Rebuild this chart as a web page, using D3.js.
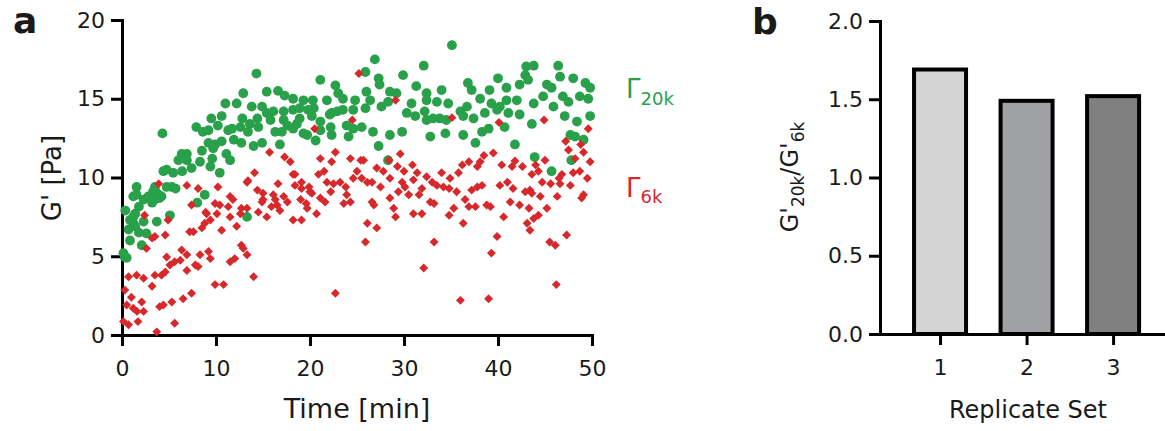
<!DOCTYPE html>
<html>
<head>
<meta charset="utf-8">
<script src="https://cdn.jsdelivr.net/npm/d3@7"></script>
<style>
  body { margin: 0; background: #fff; }
  text { font-family: "DejaVu Sans", Verdana, sans-serif; fill: #1a1a1a; }
</style>
</head>
<body>
<div id="chart"></div>
<script>
// panel a: storage modulus over time, [time (min), G' (Pa)]
const gamma20k = [
  [0.15,5.2],[0.3,4.95],[0.5,4.9],[0.35,7.9],[0.7,6.7],[0.85,6.0],[0.85,7.3],[1.2,7.1],[1.2,7.5],[1.2,8.8],
  [1.4,6.9],[1.4,7.7],[1.55,9.4],[1.55,8.9],[1.8,6.5],[1.8,8.15],[2.1,5.7],[2.3,8.6],[2.3,7.2],[2.6,6.45],
  [2.8,8.8],[3.2,8.4],[3.3,9.1],[3.5,8.6],[3.5,9.4],[3.7,7.2],[3.7,9.0],[3.9,8.9],[4.0,8.7],[4.2,8.8],
  [4.3,12.8],[4.4,10.4],[4.75,10.5],[4.75,9.4],[5.1,7.6],[5.3,9.4],[5.45,10.3],[5.7,9.3],[6.0,11.1],[6.35,11.5],
  [6.4,10.4],[6.9,11.5],[6.9,11.1],[7.4,10.6],[7.9,13.2],[8.0,8.4],[8.3,11.0],[8.5,11.7],[8.6,12.9],[8.8,8.9],
  [9.2,12.2],[9.2,13.0],[9.4,10.7],[9.5,13.75],[9.6,11.2],[9.7,11.85],[9.9,12.1],[10.2,13.3],[10.4,10.3],[10.6,13.9],
  [10.6,12.3],[11.0,14.7],[11.1,11.5],[11.3,13.0],[11.5,11.1],[11.7,13.1],[11.9,12.4],[12.2,14.7],[12.6,13.2],[12.7,12.2],
  [12.8,13.75],[12.9,15.35],[13.3,7.5],[13.4,12.9],[13.6,13.4],[13.8,14.5],[14.0,12.0],[14.3,16.6],[14.4,13.75],[14.5,13.2],
  [14.9,14.5],[14.9,12.2],[15.4,15.45],[15.4,14.1],[15.8,13.65],[16.1,14.2],[16.3,12.9],[16.6,15.5],[16.8,12.1],[17.0,12.9],
  [17.2,13.65],[17.2,14.2],[17.3,15.2],[17.6,13.3],[18.2,15.0],[18.2,14.3],[18.2,13.1],[18.6,13.4],[18.9,13.75],[18.9,14.4],
  [19.3,14.9],[19.3,12.8],[19.7,12.7],[19.8,14.3],[20.2,13.9],[20.3,14.9],[20.4,14.4],[20.6,12.35],[21.1,16.2],[21.1,13.55],
  [21.1,13.0],[21.8,14.9],[22.1,14.0],[22.2,13.2],[22.3,14.1],[22.3,12.7],[22.7,15.85],[22.9,14.2],[23.0,15.35],[23.5,15.0],
  [23.5,14.3],[23.9,13.3],[24.1,12.6],[24.6,14.3],[24.6,13.1],[24.8,14.9],[25.5,13.2],[25.9,16.7],[25.9,14.4],[26.0,15.45],
  [26.4,14.9],[26.7,12.9],[26.9,17.5],[27.3,16.3],[27.4,15.9],[27.3,12.0],[27.6,14.5],[28.3,14.8],[28.3,11.1],[28.5,15.45],
  [28.5,12.7],[29.2,15.35],[29.8,12.9],[29.9,16.5],[30.3,14.1],[30.8,14.7],[31.2,13.9],[31.3,15.8],[32.1,17.1],[32.2,14.2],
  [32.4,15.35],[32.4,14.9],[32.4,13.65],[32.8,12.6],[33.1,13.75],[33.5,14.8],[33.8,13.75],[34.0,15.55],[34.4,12.8],[34.5,13.65],
  [34.7,14.7],[35.1,18.4],[36.0,14.2],[36.3,13.9],[36.3,12.7],[36.7,14.5],[36.8,16.0],[37.2,15.55],[37.4,13.75],[37.6,12.2],
  [38.1,15.0],[38.3,12.9],[38.6,14.1],[39.0,13.1],[39.1,15.55],[39.3,14.7],[39.9,14.3],[40.0,16.3],[40.2,14.5],[40.7,13.2],
  [40.9,15.7],[40.9,14.9],[41.1,14.1],[41.8,12.1],[42.0,14.9],[42.3,15.9],[42.3,14.0],[42.9,16.5],[43.0,17.05],[43.2,16.2],
  [43.6,13.4],[43.8,17.1],[43.8,14.7],[43.9,11.3],[44.8,15.15],[45.2,15.9],[45.7,15.7],[45.7,10.4],[45.9,14.5],[46.4,17.1],
  [46.6,16.4],[46.9,15.15],[47.1,13.9],[47.5,14.8],[47.7,12.7],[47.8,11.1],[48.0,16.3],[48.2,12.6],[48.4,13.55],[48.7,15.15],
  [49.1,12.4],[49.3,16.0],[49.6,15.0],[49.8,15.7],[49.8,13.9]
]

const gamma6k = [
  [0.15,0.85],[0.7,0.65],[1.7,0.85],[3.7,0.2],[5.6,0.75],[0.3,2.85],[1.0,2.4],[0.5,1.9],[1.2,1.7],[1.6,1.5],
  [2.1,2.1],[2.3,1.5],[0.7,3.7],[1.55,3.8],[2.3,3.6],[3.2,3.1],[3.5,3.8],[4.2,3.8],[4.0,1.8],[4.4,1.9],
  [5.3,2.1],[6.5,2.3],[7.4,2.65],[4.6,4.0],[5.1,4.45],[5.6,4.65],[6.2,4.75],[4.75,4.95],[6.35,5.4],[6.9,5.1],
  [6.9,4.1],[7.8,4.45],[8.1,4.35],[8.3,5.1],[9.2,5.3],[9.4,4.85],[9.9,3.2],[10.8,3.2],[11.5,4.65],[12.0,4.85],
  [12.7,5.7],[12.9,5.5],[13.3,5.1],[14.0,3.7],[2.6,5.5],[3.2,6.15],[3.5,6.25],[4.6,6.35],[4.9,7.3],[2.4,7.6],
  [7.2,6.55],[7.6,6.55],[8.5,6.8],[8.8,7.1],[9.4,7.3],[10.1,7.7],[10.6,6.65],[10.4,8.25],[11.3,8.15],[11.5,7.5],
  [12.2,6.9],[12.6,7.7],[12.7,8.05],[13.3,8.05],[7.4,8.25],[8.1,9.3],[9.0,7.7],[10.2,9.4],[11.5,8.8],[11.8,8.6],
  [13.3,9.7],[14.5,7.8],[15.0,8.6],[15.4,7.5],[15.9,8.15],[16.3,8.6],[16.8,7.9],[17.2,8.8],[18.2,7.3],[19.1,7.3],
  [19.6,8.35],[20.2,9.0],[20.7,7.7],[3.9,9.6],[6.9,9.5],[8.9,7.8],[9.9,8.35],
  [15.7,11.6],[17.3,11.3],[17.9,11.0],[18.2,10.2],[19.1,9.7],[20.5,13.1],[13.4,9.8],[14.1,10.3],[15.0,9.0],[16.6,9.6],
  [18.4,9.5],[20.0,9.1],[25.2,16.6],[24.5,13.65],[21.1,11.2],[22.7,11.6],[22.3,11.0],[24.3,11.2],[25.4,11.1],[18.4,10.2],
  [20.9,10.2],[21.5,10.4],[21.8,9.7],[22.5,9.6],[23.2,9.7],[23.8,9.4],[24.6,9.95],[25.0,10.4],[14.4,9.2],[16.1,8.9],
  [19.1,9.3],[19.9,9.4],[22.2,9.1],[23.9,8.9],[14.9,8.45],[16.5,8.25],[17.6,8.45],[19.0,8.6],[21.1,8.7],[21.6,8.45],
  [23.6,8.35],[24.3,8.45],[19.7,8.05],[22.7,2.65],
  [29.1,14.9],[35.1,13.8],[29.6,11.5],[28.4,11.1],[30.9,10.8],[25.7,11.1],[27.1,10.6],[27.8,10.4],[29.3,10.7],[30.0,10.4],
  [36.2,10.8],[36.9,11.0],[37.8,10.7],[38.1,11.0],[38.5,11.4],[35.8,10.3],[34.0,10.3],[34.9,9.95],[26.6,9.7],[27.5,9.4],
  [28.5,9.95],[29.8,9.7],[31.0,9.85],[31.4,10.3],[32.4,10.05],[33.0,9.7],[33.5,9.5],[34.2,9.4],[34.8,9.3],[31.9,9.3],
  [30.1,9.4],[25.5,9.95],[26.1,9.7],[29.4,9.1],[30.5,8.9],[31.6,8.9],[35.6,9.1],[37.2,9.2],[37.8,9.4],[28.5,8.7],
  [32.8,8.45],[33.2,8.35],[36.5,8.6],[36.9,8.15],[37.6,8.15],[26.6,8.45],[26.8,8.25],[28.9,8.05],[29.1,7.5],[31.0,7.7],
  [31.9,7.7],[35.3,8.05],[34.8,7.6],[36.3,7.1],[26.1,7.1],[27.1,6.8],[25.9,5.9],[33.2,5.9],[32.1,4.25],[36.0,2.2],
  [39.0,2.3],[46.2,3.2],[39.3,5.2],[39.9,6.25],[45.5,5.9],[46.1,5.7],[47.3,6.35],[40.6,7.5],[43.1,7.1],[43.4,6.65],
  [43.8,7.4],[44.3,7.6],[45.2,8.05],[49.1,8.9],[48.9,8.7],[41.3,8.45],[42.3,8.25],[38.8,8.25],[38.3,9.5],[40.2,9.5],
  [41.6,9.3],[43.4,9.2],[44.5,8.8],[46.6,9.6],[47.7,9.5],
  [40.1,13.5],[44.9,13.65],[49.6,13.1],[47.2,12.3],[48.8,12.1],[47.5,11.75],[49.1,11.6],[48.2,11.2],[49.8,11.0],[39.5,11.55],
  [45.0,11.1],[41.8,11.05],[40.4,10.8],[41.5,10.7],[42.6,10.7],[44.0,10.8],[44.3,10.4],[43.6,10.2],[46.8,10.2],[48.0,10.3],
  [48.7,10.4],[49.5,9.95],[41.0,9.7],[44.7,9.7],[45.6,9.6],[46.5,9.95],[42.9,9.1],[43.6,9.0],[46.3,8.8],[43.3,8.05],
  [39.2,8.15]
]

const timeTicks = [0, 10, 20, 30, 40, 50]
const modulusTicks = [0, 5, 10, 15, 20]

// panel b: ratio per replicate set
const replicateSets = [1, 2, 3]
const ratioValues = [1.69, 1.49, 1.52]
const barColors = ["#d4d4d4", "#a0a1a5", "#808080"]
const ratioTicks = [0, 0.5, 1.0, 1.5, 2.0]

const green = "#29a04a"
const red = "#d7282b"

const svg = d3.select("#chart").append("svg").attr("width", 1165).attr("height", 431)

function styleAxis(g) {
  g.selectAll("path.domain").attr("stroke", "#000").attr("stroke-width", 3).attr("stroke-linecap", "square")
  g.selectAll(".tick line").attr("stroke", "#000").attr("stroke-width", 3)
  g.selectAll(".tick text").style("font-size", "22px").attr("fill", "#111")
    .style("font-family", "'DejaVu Sans', Verdana, sans-serif")
}

// ----- panel a -----
const xA = d3.scaleLinear().domain([0, 50]).range([122, 592])
const yA = d3.scaleLinear().domain([0, 20]).range([335, 20])

const axA = svg.append("g")
axA.append("g").attr("transform", "translate(0,335)")
  .call(d3.axisBottom(xA).tickValues(timeTicks).tickSize(11).tickSizeOuter(0).tickPadding(14))
  .call(styleAxis)
axA.append("g").attr("transform", "translate(122,0)")
  .call(d3.axisLeft(yA).tickValues(modulusTicks).tickSize(11).tickSizeOuter(0).tickPadding(6))
  .call(styleAxis)

svg.append("g").selectAll("circle").data(gamma20k).join("circle")
  .attr("cx", d => xA(d[0])).attr("cy", d => yA(d[1])).attr("r", 4.9).attr("fill", green)

const diamond = d3.symbol(d3.symbolSquare, 40)
svg.append("g").selectAll("path").data(gamma6k).join("path")
  .attr("d", diamond)
  .attr("transform", d => `translate(${xA(d[0])},${yA(d[1])}) rotate(45)`)
  .attr("fill", red)

svg.append("text").attr("x", 13).attr("y", 33).style("font-size", "36px").style("font-weight", "bold").text("a")

svg.append("text").attr("transform", "translate(61,178) rotate(-90)").attr("text-anchor", "middle")
  .style("font-size", "26px").text("G' [Pa]")
svg.append("text").attr("x", 357).attr("y", 418).attr("text-anchor", "middle")
  .style("font-size", "27px").text("Time [min]")

const l20 = svg.append("text").attr("x", 626).attr("y", 98).style("font-size", "26px").style("fill", green)
l20.append("tspan").text("Γ")
l20.append("tspan").attr("dy", 7).style("font-size", "18px").text("20k")
const l6 = svg.append("text").attr("x", 626).attr("y", 197).style("font-size", "26px").style("fill", red)
l6.append("tspan").text("Γ")
l6.append("tspan").attr("dy", 6).style("font-size", "18px").text("6k")

// ----- panel b -----
const xB = d3.scaleLinear().domain([0.306, 3.6]).range([880, 1165])
const yB = d3.scaleLinear().domain([0, 2]).range([334, 21])
const barW = 52

svg.append("g").selectAll("rect").data(replicateSets).join("rect")
  .attr("x", (d, i) => xB(d) - barW / 2)
  .attr("y", (d, i) => yB(ratioValues[i]))
  .attr("width", barW)
  .attr("height", (d, i) => yB(0) - yB(ratioValues[i]))
  .attr("fill", (d, i) => barColors[i])
  .attr("stroke", "#000").attr("stroke-width", 4)

svg.append("g").attr("transform", "translate(0,334)")
  .call(d3.axisBottom(xB).tickValues(replicateSets).tickFormat(d3.format("d")).tickSize(11).tickSizeOuter(0).tickPadding(14))
  .call(styleAxis)
svg.append("g").attr("transform", "translate(880,0)")
  .call(d3.axisLeft(yB).tickValues(ratioTicks).tickFormat(d3.format(".1f")).tickSize(11).tickSizeOuter(0).tickPadding(6))
  .call(styleAxis)

svg.append("text").attr("x", 752).attr("y", 34).style("font-size", "36px").style("font-weight", "bold").text("b")

const yl = svg.append("text").attr("transform", "translate(798,177) rotate(-90)").attr("text-anchor", "middle")
  .style("font-size", "24px")
yl.append("tspan").text("G'")
yl.append("tspan").attr("dy", 6).style("font-size", "17px").text("20k")
yl.append("tspan").attr("dy", -6).text("/G'")
yl.append("tspan").attr("dy", 6).style("font-size", "17px").text("6k")

svg.append("text").attr("x", 1028).attr("y", 418).attr("text-anchor", "middle")
  .style("font-size", "24px").text("Replicate Set")
</script>
</body>
</html>
